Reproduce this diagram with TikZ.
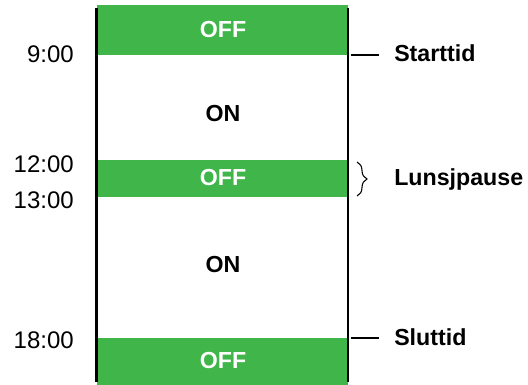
\documentclass[tikz,border=0pt]{standalone}
\usepackage{fontspec}
\setmainfont{Liberation Sans}
\usetikzlibrary{decorations.pathreplacing}
\definecolor{ink}{HTML}{000000}
\definecolor{offgreen}{HTML}{40B54A}
\newcommand{\tlfont}{\fontsize{18}{20}\selectfont}
\newcommand{\tlbold}{\fontsize{17.4}{20}\selectfont\bfseries}
\tikzset{
  every node/.style = {font=\tlfont, text=ink, inner sep=0pt},
  tlband/.style  = {fill=offgreen},
  tlrail/.style  = {draw=ink, line width=2.2pt},
  tltick/.style  = {draw=ink, line width=0.8pt},
  tlbrace/.style = {draw=ink, line width=0.8pt, decorate,
                    decoration={brace, amplitude=7.5pt}},
  tloff/.style   = {anchor=base, text=white, font=\tlbold},
  tlon/.style    = {anchor=base, font=\tlbold},
  tltime/.style  = {anchor=base east},
  tllab/.style   = {anchor=base west, font=\tlbold},
}

\begin{document}
\begin{tikzpicture}[x=0.75pt, y=-0.75pt]
\useasboundingbox (0,0) rectangle (528,385);

% off periods
\fill[tlband] (97,5)   rectangle (348,55);
\fill[tlband] (97,160) rectangle (348,197);
\fill[tlband] (97,338) rectangle (348,385);

% day rails
\draw[tlrail] (96.5,8) -- (96.5,382);
\draw[tlrail] (348,8)  -- (348,382);

\node[tloff] (off1) at (223,38)  {OFF};
\node[tlon]  (on1)  at (223,121) {ON};
\node[tloff] (off2) at (223,185) {OFF};
\node[tlon]  (on2)  at (223,272) {ON};
\node[tloff] (off3) at (223,368) {OFF};

\node[tltime] (t900)  at (74,63)  {9:00};
\node[tltime] (t1200) at (74,172) {12:00};
\node[tltime] (t1300) at (74,208) {13:00};
\node[tltime] (t1800) at (74,348) {18:00};

\node[tllab] (start) at (394,62)  {Starttid};
\node[tllab] (lunch) at (394,185) {Lunsjpause};
\node[tllab] (slutt) at (394,345) {Sluttid};

\coordinate (starta) at (351,55);
\coordinate (startb) at (379,55);
\coordinate (slutta) at (351,338);
\coordinate (sluttb) at (379,338);
\draw[tltick] (starta) -- (startb);
\draw[tltick] (slutta) -- (sluttb);

\coordinate (lunchtop) at (357,162);
\coordinate (lunchbot) at (357,196);
\draw[tlbrace] (lunchtop) -- (lunchbot);
\end{tikzpicture}
\end{document}
